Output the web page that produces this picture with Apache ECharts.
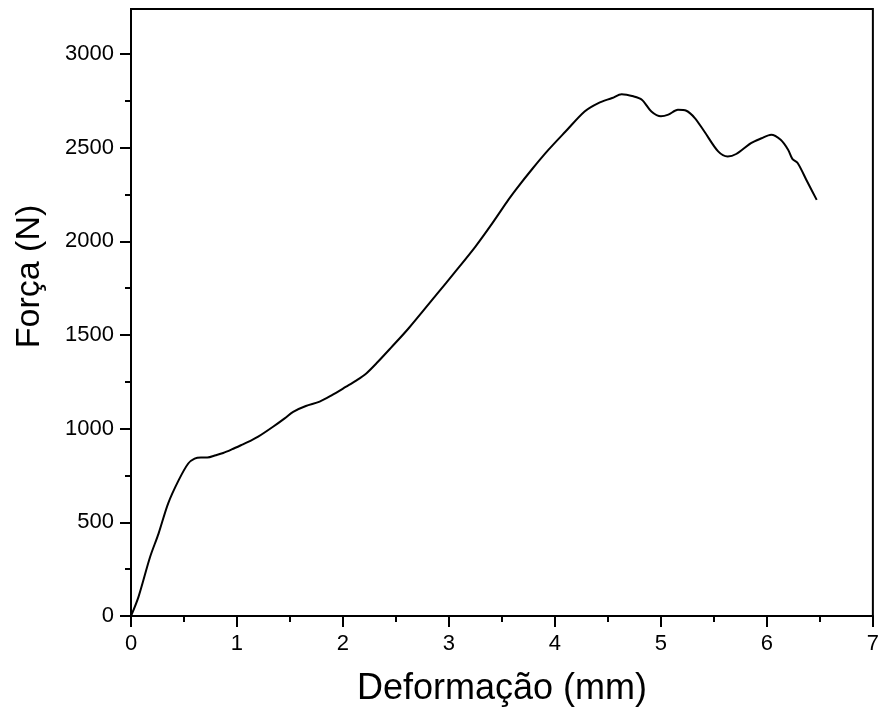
<!DOCTYPE html>
<html>
<head>
<meta charset="utf-8">
<script src="https://cdn.jsdelivr.net/npm/echarts@6/dist/echarts.min.js"></script>
<style>html,body{margin:0;padding:0;background:#fff}#c{width:882px;height:720px}</style>
</head>
<body>
<div id="c"></div>
<script>
var deformacao = [0, 0.07, 0.18, 0.26, 0.35, 0.45, 0.54, 0.60, 0.66, 0.72, 0.80, 0.87, 0.95, 1.05, 1.14, 1.20, 1.34, 1.45, 1.53, 1.65, 1.78, 1.90, 2.03, 2.12, 2.22, 2.33, 2.45, 2.62, 2.88, 3.06, 3.25, 3.41, 3.56, 3.63, 3.78, 3.94, 4.10, 4.28, 4.41, 4.54, 4.63, 4.74, 4.82, 4.91, 5.00, 5.07, 5.16, 5.24, 5.32, 5.41, 5.54, 5.63, 5.71, 5.85, 5.95, 6.04, 6.13, 6.20, 6.24, 6.29, 6.38, 6.47];
var forca = [0, 101, 315, 440, 600, 725, 814, 840, 846, 846, 858, 870, 889, 915, 939, 957, 1010, 1055, 1090, 1121, 1144, 1180, 1224, 1255, 1295, 1357, 1430, 1536, 1714, 1838, 1972, 2097, 2221, 2275, 2382, 2489, 2586, 2693, 2738, 2765, 2785, 2774, 2756, 2693, 2667, 2676, 2702, 2697, 2658, 2586, 2480, 2453, 2466, 2524, 2550, 2569, 2542, 2489, 2440, 2418, 2319, 2221];
var yTicks = [0, 500, 1000, 1500, 2000, 2500, 3000];
var yMinorTicks = [250, 750, 1250, 1750, 2250, 2750];
var xTicks = [0, 1, 2, 3, 4, 5, 6, 7];

var points = deformacao.map(function (x, i) { return [x, forca[i]]; });
var font = 'Liberation Sans, Arial, sans-serif';
var plain = function (v) { return String(v); };
var chart = echarts.init(document.getElementById('c'));
chart.setOption({
  animation: false,
  grid: { left: 131, top: 9, width: 745, height: 607, show: true, borderColor: '#000', borderWidth: 2, backgroundColor: 'transparent' },
  xAxis: {
    type: 'value', min: 0, max: 7, interval: 1,
    name: 'Deformação (mm)', nameLocation: 'middle', nameGap: 55,
    nameTextStyle: { fontFamily: font, fontSize: 36, color: '#000' },
    axisLine: { show: true, onZero: false, lineStyle: { color: '#000', width: 2 } },
    axisTick: { show: true, inside: false, length: 11, customValues: xTicks, lineStyle: { color: '#000', width: 2 } },
    minorTick: { show: true, splitNumber: 2, length: 6, lineStyle: { color: '#000', width: 2 } },
    axisLabel: { fontFamily: font, fontSize: 22, color: '#000', margin: 17, customValues: xTicks, formatter: plain },
    splitLine: { show: false }
  },
  yAxis: [{
    type: 'value', min: 0, max: 3240,
    name: 'Força (N)', nameLocation: 'middle', nameGap: 84, nameRotate: 90,
    nameTextStyle: { fontFamily: font, fontSize: 34, color: '#000', padding: [0, 0, 0, 72] },
    axisLine: { show: true, onZero: false, lineStyle: { color: '#000', width: 2 } },
    axisTick: { show: true, inside: false, length: 11, customValues: yTicks, lineStyle: { color: '#000', width: 2 } },
    axisLabel: { fontFamily: font, fontSize: 22, color: '#000', margin: 17, customValues: yTicks, formatter: plain },
    splitLine: { show: false }
  }, {
    type: 'value', min: 0, max: 3240, position: 'left',
    axisLine: { show: false },
    axisTick: { show: true, inside: false, length: 6, customValues: yMinorTicks, lineStyle: { color: '#000', width: 2 } },
    axisLabel: { show: false },
    splitLine: { show: false }
  }],
  series: [{
    type: 'line', data: points, showSymbol: false, smooth: 0.3,
    lineStyle: { color: '#000', width: 2 }
  }]
});
</script>
</body>
</html>
